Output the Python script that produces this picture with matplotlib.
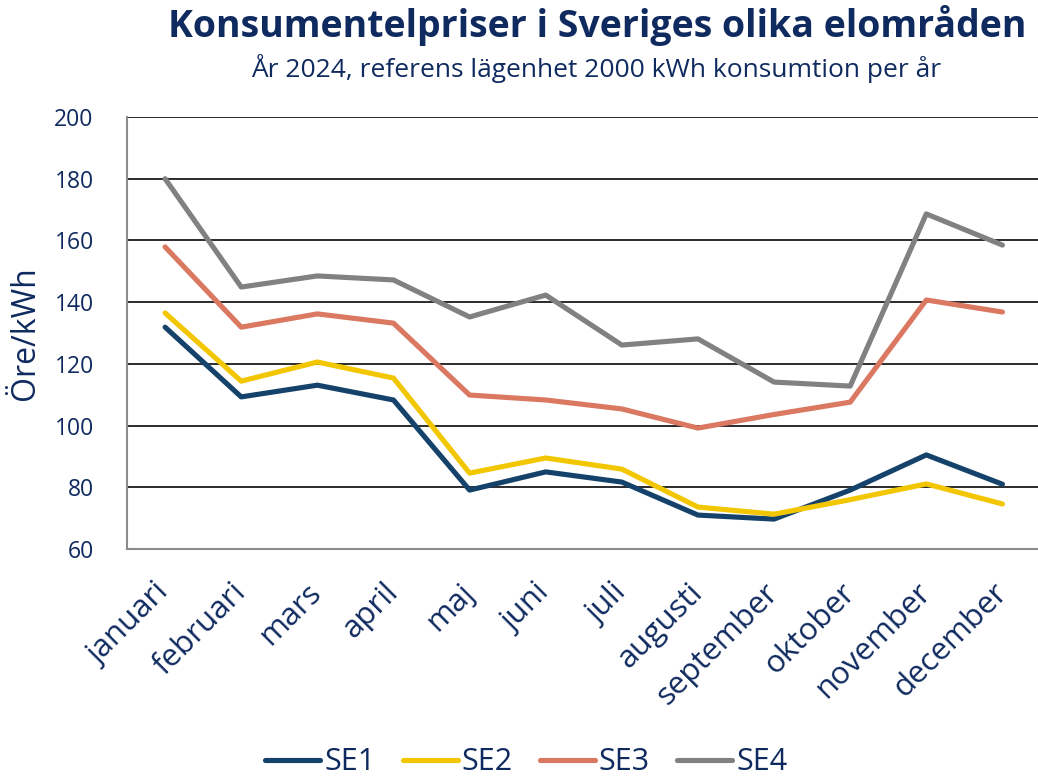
import numpy as np
import matplotlib.pyplot as plt

plt.rcParams['font.family'] = ['Open Sans', 'DejaVu Sans']

manader = ['januari', 'februari', 'mars', 'april', 'maj', 'juni', 'juli',
           'augusti', 'september', 'oktober', 'november', 'december']
se1 = [131.9, 109.3, 113.1, 108.3, 79.1, 85.0, 81.7, 71.0, 69.7, 79.1, 90.5, 81.0]
se2 = [136.5, 114.4, 120.6, 115.4, 84.6, 89.5, 85.9, 73.6, 71.3, 76.0, 81.1, 74.6]
se3 = [157.9, 131.9, 136.2, 133.2, 109.9, 108.3, 105.4, 99.2, 103.6, 107.6, 140.7, 136.8]
se4 = [180.0, 144.9, 148.5, 147.2, 135.2, 142.3, 126.1, 128.1, 114.1, 112.8, 168.6, 158.5]

navy = '#0f2a5f'
serier = [('SE1', se1, '#15426a'), ('SE2', se2, '#f2c600'),
          ('SE3', se3, '#da7861'), ('SE4', se4, '#818181')]

fig = plt.figure(figsize=(10.38, 7.77), dpi=100)
ax = fig.add_axes([0.1224, 0.2934, 0.88, 0.556])

x = np.arange(len(manader))
for namn, v, c in serier:
    ax.plot(x, v, color=c, lw=3.7, label=namn, solid_capstyle='round', zorder=3)

ax.set_xlim(-0.5, 11.5)
ax.set_ylim(60, 200)
ax.set_yticks(range(60, 201, 20))
ax.yaxis.grid(True, color='#1a1a1a', lw=1.3, zorder=1)
ax.set_axisbelow(True)
for s in ['top', 'right']:
    ax.spines[s].set_visible(False)
ax.spines['left'].set_color('#8c8c8c')
ax.spines['bottom'].set_color('#8c8c8c')
ax.spines['left'].set_linewidth(1.5)
ax.spines['bottom'].set_linewidth(1.5)
ax.tick_params(length=0, labelcolor=navy)
ax.tick_params(axis='y', pad=24, labelsize=16.5)
ax.set_xticks(x)
ax.set_xticklabels(manader, rotation=45, ha='right', va='center', rotation_mode='anchor',
                   fontsize=22.5)
ax.tick_params(axis='x', pad=28)
ax.set_ylabel('Öre/kWh', color=navy, fontsize=23, labelpad=9)

fig.text(0.575, 0.993, 'Konsumentelpriser i Sveriges olika elområden', ha='center', va='top',
         fontsize=27, fontweight='bold', color=navy)
fig.text(0.574, 0.912, 'År 2024, referens lägenhet 2000 kWh konsumtion per år', ha='center',
         va='center', fontsize=19, color=navy)

fig.legend(loc='center', bbox_to_anchor=(0.507, 0.019), ncol=4, frameon=False, fontsize=22,
           labelcolor=navy, handlelength=1.8, handletextpad=0.12, columnspacing=0.9,
           borderpad=0)

fig.savefig('out.png', dpi=100)
